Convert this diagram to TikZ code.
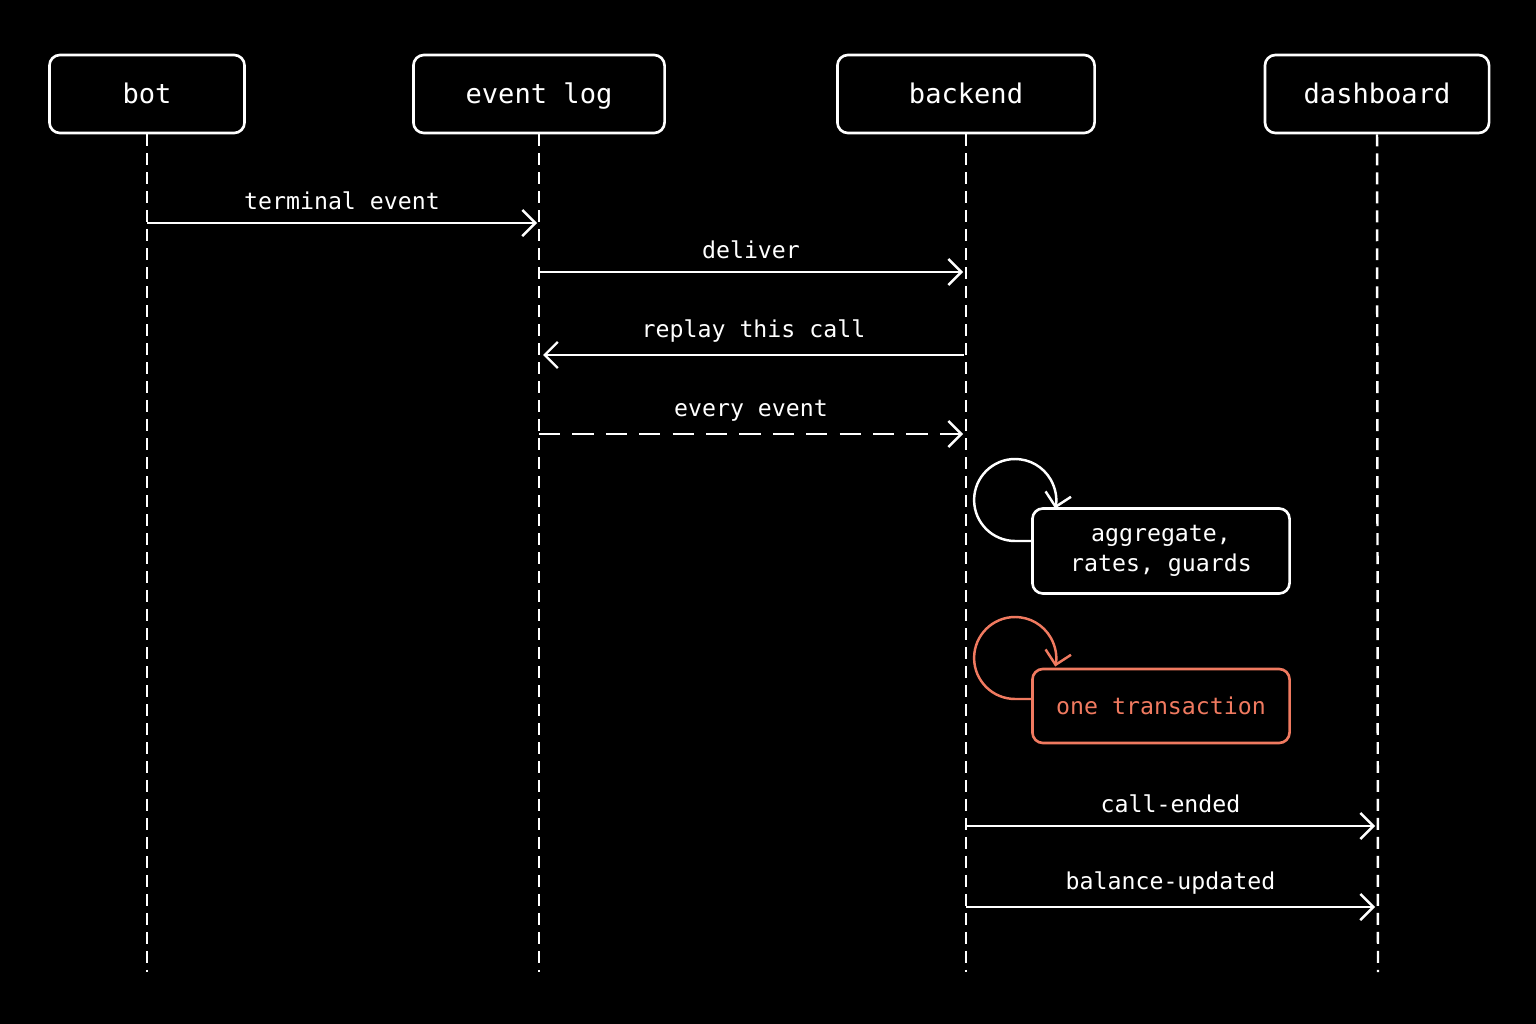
\documentclass[tikz,border=0pt]{standalone}
\usepackage{fontspec}
\setmainfont{DejaVu Sans Mono}
\usetikzlibrary{arrows.meta, positioning}
\definecolor{txcolor}{RGB}{240,122,96}
\begin{document}
\begin{tikzpicture}[
            x=0.01cm, y=-0.01cm,
            >={Straight Barb[length=1.3mm,width=2.6mm]},
                actor/.style = {rectangle, rounded corners=3pt, draw=white, line width=0.75pt,
                            minimum height=0.78cm, text=white, text height=1.4ex, text depth=0.4ex,
                            font=\fontsize{7.7}{9}\selectfont},
                note/.style = {rectangle, rounded corners=3pt, draw=white, line width=0.75pt,
                            minimum width=2.57cm, text=white, align=center,
                            font=\fontsize{6.6}{8.4}\selectfont},
                life/.style = {draw=white, line width=0.7pt, dash pattern=on 3.4pt off 2pt},
                msg/.style = {draw=white, line width=0.7pt, ->},
                lbl/.style = {text=white, font=\fontsize{6.6}{8}\selectfont, above=0pt},
                txn/.style = {draw=txcolor, text=txcolor}]
            \fill[black] (0,0) rectangle (1536,1024);
            % actors
            \node (bot) [actor, minimum width=1.95cm] at (147,94) {bot};
            \node (eventlog) [actor, minimum width=2.51cm] at (539,94) {event log};
            \node (backend) [actor, minimum width=2.57cm] at (966,94) {backend};
            \node (dashboard) [actor, minimum width=2.24cm] at (1377,94) {dashboard};
            % lifelines
            \foreach \a/\x in {bot/147, eventlog/539, backend/966, dashboard/1378} {
                \coordinate (\a End) at (\x,972);
                \draw[life] (\a.south) -- (\a End);
            }
            % message end points
            \coordinate (m1a) at (147,223);  \coordinate (m1b) at (537,223);
            \coordinate (m2a) at (539,272);  \coordinate (m2b) at (963,272);
            \coordinate (m3a) at (964,355);  \coordinate (m3b) at (543,355);
            \coordinate (m4a) at (539,434);  \coordinate (m4b) at (963,434);
            \coordinate (m5a) at (966,826);  \coordinate (m5b) at (1375,826);
            \coordinate (m6a) at (966,907);  \coordinate (m6b) at (1375,907);
            \draw[msg] (m1a) -- node[lbl] {terminal event} (m1b);
            \draw[msg] (m2a) -- node[lbl] {deliver} (m2b);
            \draw[msg] (m3a) -- node[lbl] {replay this call} (m3b);
            \draw[msg, dash pattern=on 6pt off 3.5pt] (m4a) -- node[lbl] {every event} (m4b);
            \draw[msg] (m5a) -- node[lbl] {call-ended} (m5b);
            \draw[msg] (m6a) -- node[lbl] {balance-updated} (m6b);
            % self steps
            \node (aggregate) [note, minimum height=0.85cm] at (1161,551) {aggregate,\\rates, guards};
            \node (transaction) [note, txn, minimum height=0.74cm] at (1161,706) {one transaction};
            \draw[msg] (aggregate.west |- 0,541) -- ++(-16,0)
                arc[start angle=90, end angle=372, radius=41];
            \draw[msg, draw=txcolor] (transaction.west |- 0,699) -- ++(-16,0)
                arc[start angle=90, end angle=372, radius=41];
        \end{tikzpicture}
\end{document}
